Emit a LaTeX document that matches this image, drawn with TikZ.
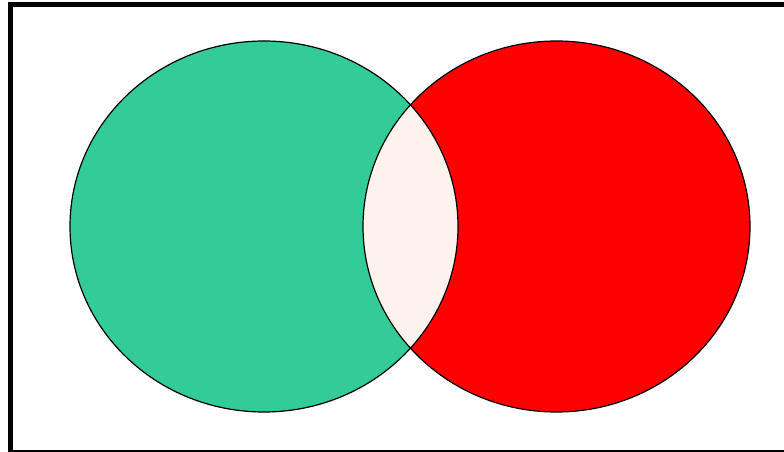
\documentclass[tikz,border=0pt]{standalone}
\begin{document}
\begin{tikzpicture}[x=1pt,y=-1pt,
  setA/.style={fill={rgb,255:red,51;green,204;blue,153}},
  setB/.style={fill={rgb,255:red,255;green,0;blue,0}},
  lens/.style={fill={rgb,255:red,253;green,242;blue,236}},
  outline/.style={draw=black,line width=1.2pt}]
\useasboundingbox (0,0) rectangle (784,452);
\fill[white] (0,0) rectangle (784,452);
\draw[line width=5pt] (786,4.5) -- (10.5,4.5) -- (10.5,452.5) -- (786,452.5);
\path[setA] (264,226.5) ellipse [x radius=194, y radius=185.5];
\path[setB] (556.5,226.5) ellipse [x radius=193.5, y radius=185.5];
\begin{scope}
  \clip (264,226.5) ellipse [x radius=194, y radius=185.5];
  \path[lens] (556.5,226.5) ellipse [x radius=193.5, y radius=185.5];
\end{scope}
\draw[outline] (264,226.5) ellipse [x radius=194, y radius=185.5];
\draw[outline] (556.5,226.5) ellipse [x radius=193.5, y radius=185.5];
\end{tikzpicture}
\end{document}
